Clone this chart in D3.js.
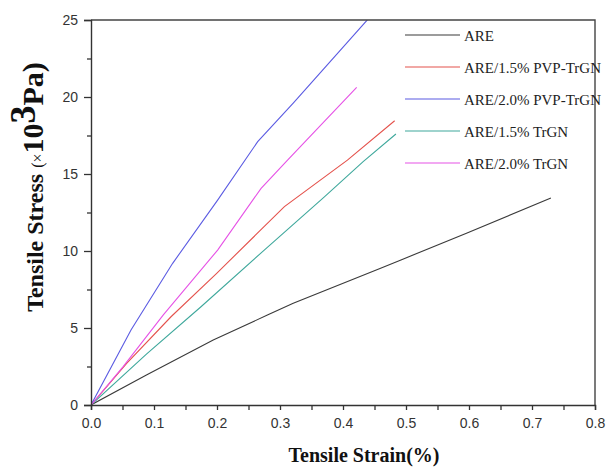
<!DOCTYPE html>
<html>
<head>
<meta charset="utf-8">
<script src="https://cdn.jsdelivr.net/npm/d3@7"></script>
<style>
  body { margin: 0; background: #fff; }
</style>
</head>
<body>
<div id="chart"></div>
<script>
// strain (%) / stress (x10^3 Pa)
const seriesNames = ['ARE', 'ARE/1.5% PVP-TrGN', 'ARE/2.0% PVP-TrGN', 'ARE/1.5% TrGN', 'ARE/2.0% TrGN']
const seriesColors = ['#3a3a3a', '#e4524c', '#5b5be2', '#3fa89c', '#e652e6']

const areData = [[0, 0], [0.088, 1.95], [0.194, 4.22], [0.28, 5.84], [0.321, 6.6], [0.4587, 8.87], [0.492, 9.42], [0.596, 11.15], [0.73, 13.44]]
const pvp15Data = [[0, 0], [0.0566, 2.7], [0.127, 5.73], [0.1995, 8.55], [0.307, 12.88], [0.407, 15.9], [0.482, 18.46]]
const pvp20Data = [[0, 0], [0.0635, 4.87], [0.1296, 9.2], [0.201, 13.3], [0.2646, 17.1], [0.321, 19.6], [0.4376, 24.96], [0.44, 25.1]]
const trgn15Data = [[0, 0], [0.088, 3.3], [0.1746, 6.38], [0.275, 10.06], [0.37, 13.5], [0.432, 15.8], [0.484, 17.6]]
const trgn20Data = [[0, 0], [0.051, 2.49], [0.1148, 5.85], [0.201, 10.06], [0.27, 14.07], [0.312, 15.9], [0.4217, 20.63]]
const allSeries = [areData, pvp15Data, pvp20Data, trgn15Data, trgn20Data]

const xMajorTicks = [0, 0.1, 0.2, 0.3, 0.4, 0.5, 0.6, 0.7, 0.8]
const xMinorTicks = [0.05, 0.15, 0.25, 0.35, 0.45, 0.55, 0.65, 0.75]
const yMajorTicks = [0, 5, 10, 15, 20, 25]
const yMinorTicks = [2.5, 7.5, 12.5, 17.5, 22.5]

const width = 606, height = 467
const plot = { left: 91, right: 595, top: 20, bottom: 405 }

const svg = d3.select('#chart').append('svg')
  .attr('width', width)
  .attr('height', height)

const xScale = d3.scaleLinear().domain([0, 0.8]).range([plot.left, plot.right])
const yScale = d3.scaleLinear().domain([0, 25]).range([plot.bottom, plot.top])

const axisColor = '#333'
const tickFont = '"Liberation Sans", Arial, sans-serif'
const serif = '"Liberation Serif", "Times New Roman", serif'

// clip so the steep curve stops at the frame
svg.append('clipPath').attr('id', 'plotClip')
  .append('rect')
  .attr('x', plot.left).attr('y', plot.top)
  .attr('width', plot.right - plot.left).attr('height', plot.bottom - plot.top)

// curves
const line = d3.line().x(d => xScale(d[0])).y(d => yScale(d[1]))
svg.append('g')
  .attr('clip-path', 'url(#plotClip)')
  .selectAll('path')
  .data(allSeries)
  .enter()
  .append('path')
  .attr('d', line)
  .attr('fill', 'none')
  .attr('stroke', (d, i) => seriesColors[i])
  .attr('stroke-width', 1.1)

// frame (top + right)
svg.append('path')
  .attr('d', `M${plot.left},${plot.top}H${plot.right}V${plot.bottom}`)
  .attr('fill', 'none')
  .attr('stroke', '#444')
  .attr('stroke-width', 1.4)

// x axis
const gX = svg.append('g').attr('transform', `translate(0,${plot.bottom})`)
gX.call(d3.axisBottom(xScale).tickValues(xMajorTicks).tickSize(5).tickPadding(8).tickFormat(d3.format('.1f')))
svg.append('g').attr('transform', `translate(0,${plot.bottom})`)
  .call(d3.axisBottom(xScale).tickValues(xMinorTicks).tickSize(5).tickFormat(''))
  .call(g => g.select('.domain').remove())

// y axis
const gY = svg.append('g').attr('transform', `translate(${plot.left},0)`)
gY.call(d3.axisLeft(yScale).tickValues(yMajorTicks).tickSize(7).tickPadding(6).tickFormat(d3.format('d')))
svg.append('g').attr('transform', `translate(${plot.left},0)`)
  .call(d3.axisLeft(yScale).tickValues(yMinorTicks).tickSize(4).tickFormat(''))
  .call(g => g.select('.domain').remove())

svg.selectAll('.domain').attr('stroke', axisColor).attr('stroke-width', 1.4)
svg.selectAll('.tick line').attr('stroke', axisColor).attr('stroke-width', 1.3)
svg.selectAll('.tick text')
  .attr('font-family', tickFont)
  .attr('font-size', 14)
  .style('fill', '#333')

// axis titles
svg.append('text')
  .attr('x', 364)
  .attr('y', 462)
  .attr('text-anchor', 'middle')
  .attr('font-family', serif)
  .attr('font-weight', 'bold')
  .attr('font-size', 20)
  .style('fill', '#111')
  .text('Tensile Strain(%)')

const yTitle = svg.append('text')
  .attr('transform', 'translate(43,187) rotate(-90)')
  .attr('text-anchor', 'middle')
  .attr('font-family', serif)
  .attr('font-weight', 'bold')
  .attr('font-size', 24)
  .style('fill', '#111')
yTitle.append('tspan').text('Tensile Stress ')
yTitle.append('tspan').attr('font-weight', 'normal').attr('font-size', 16).text('(×')
yTitle.append('tspan').attr('font-size', 30).text('10')
yTitle.append('tspan').attr('font-size', 36).attr('dy', -8).text('3')
yTitle.append('tspan').attr('font-size', 30).attr('dy', 8).text('Pa)')

// legend
const gLegend = svg.append('g')
const legendY = (d, i) => 35 + i * 32
gLegend.selectAll('line')
  .data(seriesNames)
  .enter()
  .append('line')
  .attr('x1', 405).attr('x2', 460)
  .attr('y1', legendY).attr('y2', legendY)
  .attr('stroke', (d, i) => seriesColors[i])
  .attr('stroke-width', 1.1)
gLegend.selectAll('text')
  .data(seriesNames)
  .enter()
  .append('text')
  .attr('x', 464)
  .attr('y', (d, i) => legendY(d, i) + 6)
  .attr('font-family', serif)
  .attr('font-size', 15)
  .style('fill', '#222')
  .text(d => d)
</script>
</body>
</html>
